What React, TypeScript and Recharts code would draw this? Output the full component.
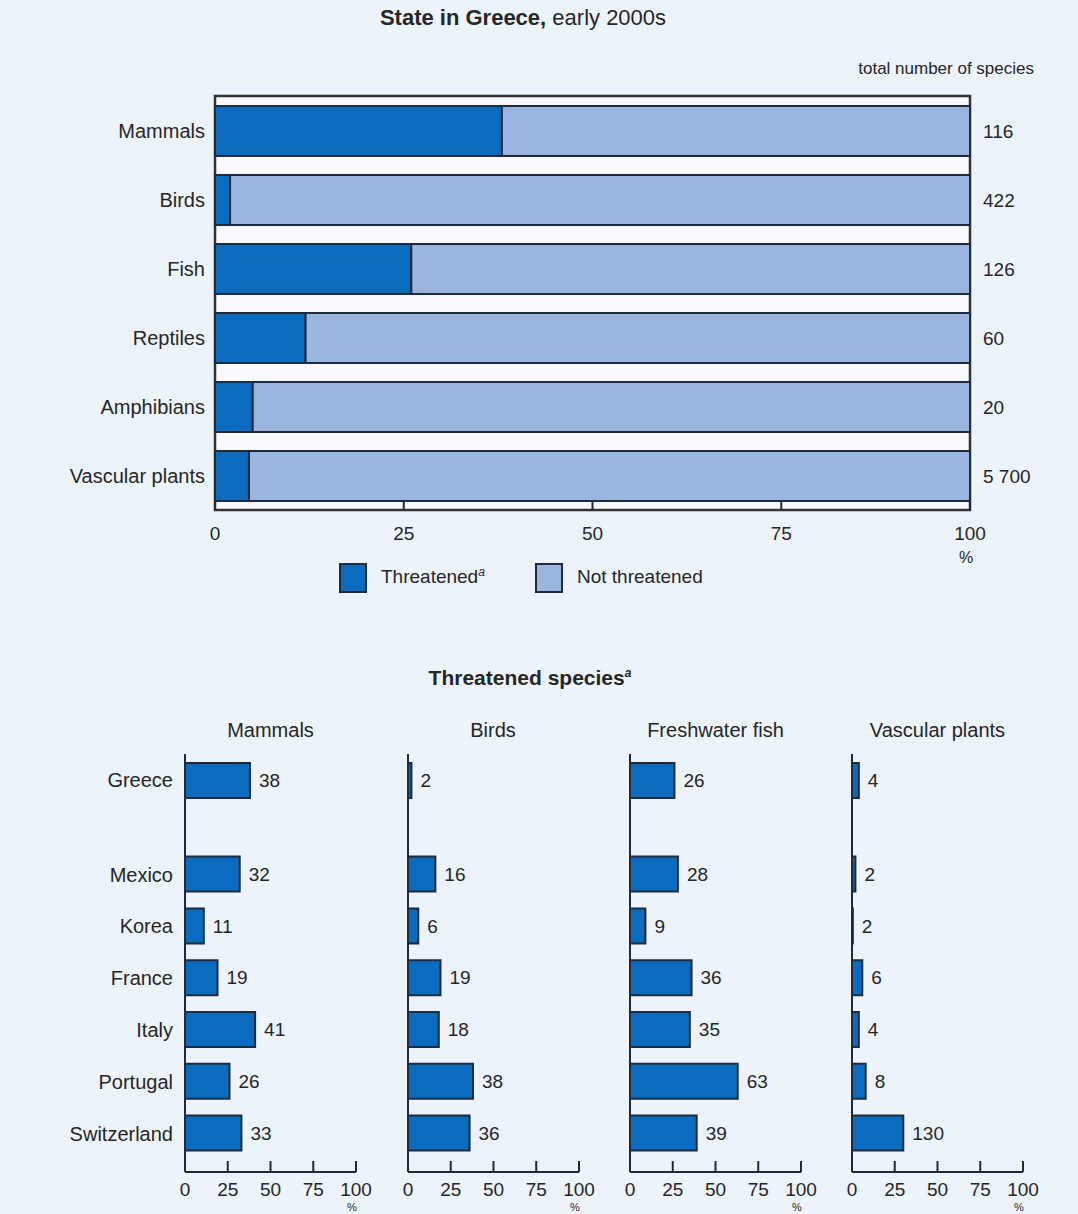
import React from 'react';
import { BarChart, Bar, XAxis, YAxis, LabelList, ReferenceArea, Legend } from 'recharts';

const FONT = "'Liberation Sans', Arial, sans-serif";
const BG = '#edf3fa';
const PLOT_BG = '#f8fafd';
const DARK = '#1e2b3c';
const BLUE = '#0b6cbf';
const LIGHT = '#9cb5e0';
const TEXT = '#262626';

// ---- Top chart data ----
const groups = ['Mammals', 'Birds', 'Fish', 'Reptiles', 'Amphibians', 'Vascular plants'];
const threatenedShare = [38, 2, 26, 12, 5, 4.5];
const notThreatenedShare = [62, 98, 74, 88, 95, 95.5];
const totalSpecies = ['116', '422', '126', '60', '20', '5 700'];
const pctTicks = [0, 25, 50, 75, 100];

// ---- Bottom panels data ----
const countries = ['Greece', 'Mexico', 'Korea', 'France', 'Italy', 'Portugal', 'Switzerland'];
const mammalsPct = [38, 32, 11, 19, 41, 26, 33];
const birdsPct = [2, 16, 6, 19, 18, 38, 36];
const fishPct = [26, 28, 9, 36, 35, 63, 39];
const plantsPct = [4, 2, 0.5, 6, 4, 8, 30];
const plantsLabels = ['4', '2', '2', '6', '4', '8', '130'];
const panelTitles = ['Mammals', 'Birds', 'Freshwater fish', 'Vascular plants'];

const topData = groups.map((g, i) => ({
  name: g,
  threatened: threatenedShare[i],
  notThreatened: notThreatenedShare[i],
  total: totalSpecies[i],
}));

const panelSeries = [
  { values: mammalsPct, labels: mammalsPct.map(String) },
  { values: birdsPct, labels: birdsPct.map(String) },
  { values: fishPct, labels: fishPct.map(String) },
  { values: plantsPct, labels: plantsLabels },
];

const PANEL_X = [185, 407.5, 630, 852];
const PANEL_W = 171;
const NUM_SIZE = 19;
const CAT_SIZE = 20;

const makeXTick = (len: number, dy: number, fontSize: number, pctDy: number, pctSize: number) => (props: any) => {
  const { x, y, payload } = props;
  return (
    <g>
      <line x1={x} x2={x} y1={y} y2={y - len} stroke={DARK} strokeWidth={2} />
      <text x={x} y={y + dy} textAnchor="middle" fontSize={fontSize} fill={TEXT} fontFamily={FONT}>
        {payload.value}
      </text>
      {payload.value === 100 && (
        <text x={x - 4} y={y + dy + pctDy} textAnchor="middle" fontSize={pctSize} fill={TEXT} fontFamily={FONT}>
          %
        </text>
      )}
    </g>
  );
};

const supStyle: React.CSSProperties = { fontSize: 12, fontStyle: 'italic', verticalAlign: 'super', lineHeight: 0 };

const renderLegend = () => (
  <div style={{ position: 'relative', width: 1078, height: 32, fontFamily: FONT, fontSize: 19, color: TEXT }}>
    <span style={{ position: 'absolute', left: 339, top: 1, width: 24, height: 26, background: BLUE, border: `2px solid ${DARK}` }} />
    <span style={{ position: 'absolute', left: 381, top: 0, lineHeight: '30px', whiteSpace: 'nowrap' }}>
      Threatened<span style={supStyle}>a</span>
    </span>
    <span style={{ position: 'absolute', left: 535, top: 1, width: 24, height: 26, background: LIGHT, border: `2px solid ${DARK}` }} />
    <span style={{ position: 'absolute', left: 577, top: 0, lineHeight: '30px', whiteSpace: 'nowrap' }}>Not threatened</span>
  </div>
);

function TopChart() {
  return (
    <div style={{ position: 'absolute', left: 0, top: 0 }}>
      <BarChart
        layout="vertical"
        width={1078}
        height={570}
        data={topData}
        margin={{ top: 96, right: 108, bottom: 0, left: 0 }}
        barCategoryGap={19}
      >
        <ReferenceArea x1={0} x2={100} fill={PLOT_BG} fillOpacity={1} stroke="#333" strokeWidth={2.5} />
        <XAxis
          type="number"
          domain={[0, 100]}
          ticks={pctTicks}
          height={60}
          axisLine={false}
          tickLine={false}
          tickSize={0}
          tickMargin={0}
          tick={makeXTick(8, 30, NUM_SIZE, 23, 16)}
          interval={0}
        />
        <YAxis
          type="category"
          dataKey="name"
          width={215}
          axisLine={false}
          tickLine={false}
          tickSize={0}
          tickMargin={10}
          tick={{ fontSize: CAT_SIZE, fill: TEXT, fontFamily: FONT }}
        />
        <Bar dataKey="threatened" stackId="s" fill={BLUE} stroke={DARK} strokeWidth={2} barSize={50} isAnimationActive={false} />
        <Bar dataKey="notThreatened" stackId="s" fill={LIGHT} stroke={DARK} strokeWidth={2} barSize={50} isAnimationActive={false}>
          <LabelList dataKey="total" position="right" offset={13} fontSize={NUM_SIZE} fill={TEXT} fontFamily={FONT} />
        </Bar>
        <Legend
          layout="horizontal"
          verticalAlign="middle"
          align="center"
          content={renderLegend}
          wrapperStyle={{ top: 562, left: 0, width: 1078 }}
        />
      </BarChart>
    </div>
  );
}

function Panel({ idx }: { idx: number }) {
  const x0 = PANEL_X[idx];
  const yw = idx === 0 ? 120 : 20;
  const rightM = 50;
  const width = yw + PANEL_W + rightM;
  const series = panelSeries[idx];
  const rows = countries.map((c, i) => ({ name: c, value: series.values[i], label: series.labels[i] }));
  const yTick = idx === 0 ? { fontSize: CAT_SIZE, fill: TEXT, fontFamily: FONT } : false;
  const axisLine = { stroke: DARK, strokeWidth: 2 };
  const labelProps = { fontSize: NUM_SIZE, fill: TEXT, fontFamily: FONT };
  return (
    <>
      <div
        style={{
          position: 'absolute',
          left: x0 + PANEL_W / 2 - 110,
          top: 716,
          width: 220,
          textAlign: 'center',
          fontSize: CAT_SIZE,
          lineHeight: '28px',
          whiteSpace: 'nowrap',
        }}
      >
        {panelTitles[idx]}
      </div>
      <div style={{ position: 'absolute', left: x0 - yw, top: 754 }}>
        <BarChart layout="vertical" width={width} height={52} data={rows.slice(0, 1)} margin={{ top: 0, right: rightM, bottom: 0, left: 0 }}>
          <XAxis type="number" domain={[0, 100]} hide />
          <YAxis type="category" dataKey="name" width={yw} tickLine={false} tickSize={0} tickMargin={12} tick={yTick} axisLine={axisLine} />
          <Bar dataKey="value" fill={BLUE} stroke={DARK} strokeWidth={2} barSize={35} isAnimationActive={false}>
            <LabelList dataKey="label" position="right" offset={9} {...labelProps} />
          </Bar>
        </BarChart>
      </div>
      <div style={{ position: 'absolute', left: x0 - yw, top: 806 }}>
        <BarChart layout="vertical" width={width} height={408} data={rows.slice(1)} margin={{ top: 0, right: rightM, bottom: 0, left: 0 }}>
          <XAxis
            type="number"
            domain={[0, 100]}
            ticks={pctTicks}
            interval={0}
            height={42}
            axisLine={axisLine}
            tickLine={false}
            tickSize={0}
            tickMargin={0}
            tick={makeXTick(11, 24, NUM_SIZE, 15, 11)}
          />
          <YAxis
            type="category"
            dataKey="name"
            width={yw}
            tickLine={false}
            tickSize={0}
            tickMargin={12}
            tick={yTick}
            axisLine={axisLine}
            padding={{ top: 42.6, bottom: 12.6 }}
          />
          <Bar dataKey="value" fill={BLUE} stroke={DARK} strokeWidth={2} barSize={35} isAnimationActive={false}>
            <LabelList dataKey="label" position="right" offset={9} {...labelProps} />
          </Bar>
        </BarChart>
      </div>
    </>
  );
}

export default function App() {
  return (
    <div
      style={{
        position: 'absolute',
        left: 0,
        top: 0,
        width: 1078,
        height: 1214,
        background: BG,
        overflow: 'hidden',
        fontFamily: FONT,
        color: TEXT,
      }}
    >
      <div style={{ position: 'absolute', left: 0, top: 4, width: 1046, textAlign: 'center', fontSize: 22, lineHeight: '28px' }}>
        <b>State in Greece,</b> early 2000s
      </div>
      <div style={{ position: 'absolute', right: 44, top: 56, fontSize: 17, lineHeight: '26px', whiteSpace: 'nowrap' }}>
        total number of species
      </div>
      <TopChart />
      <div style={{ position: 'absolute', left: 0, top: 664, width: 1060, textAlign: 'center', fontSize: 21, lineHeight: '28px', fontWeight: 'bold' }}>
        Threatened species<span style={supStyle}>a</span>
      </div>
      {panelTitles.map((t, i) => (
        <Panel key={t} idx={i} />
      ))}
    </div>
  );
}
